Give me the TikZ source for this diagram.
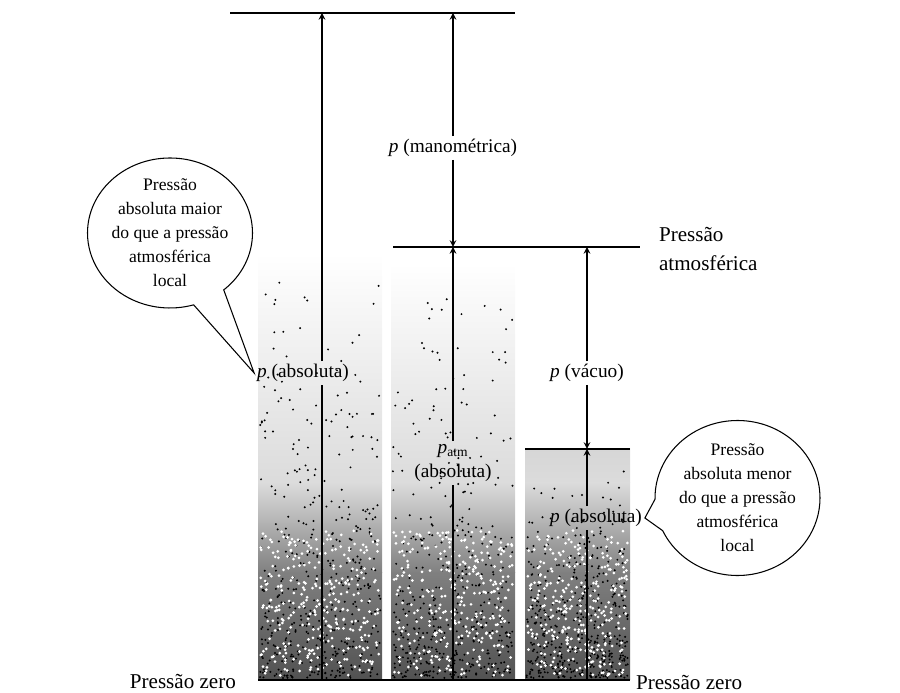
\documentclass[tikz,border=0pt]{standalone}
\usepackage{fontspec}
\setmainfont{Liberation Serif}
\usetikzlibrary{shapes.callouts}

\tikzset{
  lbl/.style={font=\fontsize{11}{14}\selectfont, inner sep=1.5pt},
  edge/.style={font=\fontsize{12}{16}\selectfont, inner sep=1pt},
  bubble/.style={ellipse callout, draw, fill=white, line width=0.6pt, align=center,
    inner xsep=-14pt, inner ysep=-10pt, callout pointer arc=24,
    font=\fontsize{10}{13.7}\selectfont},
  level/.style={line width=0.8pt},
  shaft/.style={line width=0.7pt},
}

\begin{document}
\begin{tikzpicture}
  \useasboundingbox (0,0) rectangle (18,13.86);
  \pgfmathsetseed{11}

  % stippled columns
  \foreach \xa/\xb/\yt/\ct in {5.16/7.64/8.8/white, 7.82/10.3/8.6/white, 10.5/12.6/4.88/black!16}{
    \shade[top color=\ct, bottom color=black!14] (\xa,4.2) rectangle (\xb,\yt);
    \shade[top color=black!14, bottom color=black!50] (\xa,2.4) rectangle (\xb,4.2);
    \shade[top color=black!50, bottom color=black!68] (\xa,0.26) rectangle (\xb,2.4);
    \foreach \i in {1,...,450}
      \fill ({\xa+0.03+(\xb-\xa-0.06)*rnd},{0.3+(\yt-0.35)*rnd*rnd}) circle (0.022);
    \foreach \i in {1,...,320}
      \fill[white] ({\xa+0.05+(\xb-\xa-0.1)*rnd},{0.35+2.9*rnd}) circle (0.03);
  }

  % levels
  \draw[level] (4.6,13.6) -- (10.3,13.6);
  \draw[level] (7.86,8.92) -- (12.8,8.92);
  \draw[level] (10.5,4.88) -- (12.6,4.88);
  \draw[level] (5.16,0.26) -- (12.6,0.26);

  \coordinate (zeroA) at (6.44,0.26);
  \coordinate (topA) at (6.44,13.6);
  \coordinate (zeroB) at (9.06,0.26);
  \coordinate (atmB) at (9.06,8.92);
  \coordinate (topB) at (9.06,13.6);
  \coordinate (zeroC) at (11.74,0.26);
  \coordinate (surfC) at (11.74,4.88);
  \coordinate (atmC) at (11.74,8.92);

  % labels
  \node[lbl] (absA) at (6.06,6.4) {\textit{p} (absoluta)};
  \node[lbl] (mano) at (9.06,10.9) {\textit{p} (manométrica)};
  \node[lbl, align=center] (patm) at (9.06,4.6) {\textit{p}\textsubscript{atm}\\(absoluta)};
  \node[lbl] (vac) at (11.74,6.4) {\textit{p} (vácuo)};
  \node[lbl] (absC) at (11.92,3.5) {\textit{p} (absoluta)};
  \node[edge, align=left, anchor=west] (atmlbl) at (13.14,8.88) {Pressão\\atmosférica};
  \node[edge, anchor=east] (zeroL) at (4.76,0.22) {Pressão zero};
  \node[edge, anchor=west] (zeroR) at (12.68,0.2) {Pressão zero};

  % arrows
  \draw[shaft] (zeroA) -- (zeroA |- absA.south);
  \draw[shaft, -stealth] (zeroA |- absA.north) -- (topA);
  \draw[shaft] (zeroB) -- (zeroB |- patm.south);
  \draw[shaft, -stealth] (zeroB |- patm.north) -- (atmB);
  \draw[shaft, -stealth] (mano.south) -- (atmB);
  \draw[shaft, -stealth] (mano.north) -- (topB);
  \draw[shaft] (zeroC) -- (zeroC |- absC.south);
  \draw[shaft, -stealth] (zeroC |- absC.north) -- (surfC);
  \draw[shaft, -stealth] (vac.south) -- (surfC);
  \draw[shaft, -stealth] (vac.north) -- (atmC);

  % callouts
  \node[bubble, minimum width=3.3cm, minimum height=3.0cm,
    callout absolute pointer={(absA.west)}] (bubA) at (3.4,9.2)
    {Pressão\\absoluta maior\\do que a pressão\\atmosférica\\local};
  \node[bubble, minimum width=3.3cm, minimum height=3.1cm,
    callout absolute pointer={(absC.east)}] (bubC) at (14.75,3.9)
    {Pressão\\absoluta menor\\do que a pressão\\atmosférica\\local};
\end{tikzpicture}
\end{document}
